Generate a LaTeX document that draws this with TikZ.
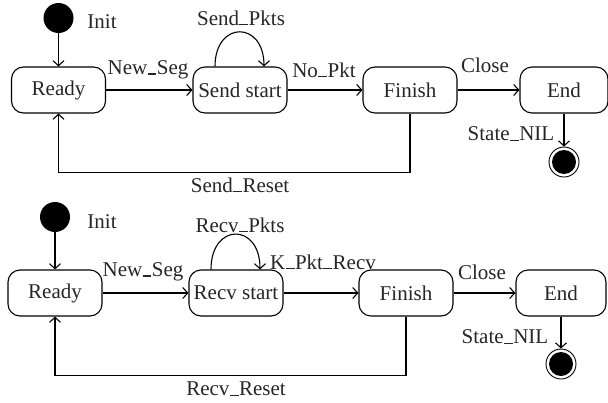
\documentclass[tikz,border=0pt]{standalone}
\usepackage{fontspec}
\setmainfont{Liberation Serif}
\usetikzlibrary{arrows.meta}
\newcommand\usc{\kern0.02em\rule[0em]{0.42em}{0.06em}\kern0.02em}
\begin{document}
\begin{tikzpicture}[x=1pt,y=-1pt,
  every node/.style={font=\fontsize{21}{24}\selectfont, text=black!85},
  state/.style={draw, line width=1.1pt, rounded corners=12pt, minimum width=94pt, minimum height=46pt, inner sep=0pt},
  initst/.style={circle, fill=black, minimum size=30pt, inner sep=0pt},
  finalst/.style={circle, draw, line width=0.9pt, minimum size=30pt, inner sep=0pt,
     path picture={\fill[black] (path picture bounding box.center) circle (12pt);}},
  arr/.style={line width=1.1pt, -{Straight Barb[length=5pt,width=11pt,line width=1.1pt]}},
  lbl/.style={inner sep=0pt}]
\useasboundingbox (0,0) rectangle (608,402);
% ---------- top diagram ----------
\node[initst] (i1) at (58.5,18) {};
\node[state] (r1) at (58.5,90) {Ready};
\node[state] (s1) at (240,90) {Send start};
\node[state] (f1) at (410,90) {Finish};
\node[state, minimum width=88pt] (e1) at (564,90) {End};
\node[finalst] (z1) at (564,162) {};
\draw[arr] (i1) -- (r1);
\draw[arr] (r1) -- (s1);
\draw[arr] (s1) -- (f1);
\draw[arr] (f1) -- (e1);
\draw[arr] (e1) -- (z1);
\draw[arr] ([xshift=-25pt]s1.north) .. controls +(0,-46) and +(0,-46) .. ([xshift=24pt]s1.north);
\draw[arr] (f1.south) -- ++(0,59) -| (r1.south);
\node[lbl] (t1) at (102,22) {Init};
\node[lbl] (t2) at (148,70) {New\usc Seg};
\node[lbl] (t3) at (241,18) {Send\usc Pkts};
\node[lbl] (t4) at (324,70) {No\usc Pkt};
\node[lbl] (t5) at (485,65) {Close};
\node[lbl] (t6) at (511,134) {State\usc NIL};
\node[lbl] (t7) at (240,185) {Send\usc Reset};
% ---------- bottom diagram ----------
\node[initst] (i2) at (55,217) {};
\node[state] (r2) at (55,293) {Ready};
\node[state] (s2) at (236,293) {Recv start};
\node[state] (f2) at (406,293) {Finish};
\node[state, minimum width=90pt] (e2) at (561,293) {End};
\node[finalst] (z2) at (561,364) {};
\draw[arr] (i2) -- (r2);
\draw[arr] (r2) -- (s2);
\draw[arr] (s2) -- (f2);
\draw[arr] (f2) -- (e2);
\draw[arr] (e2) -- (z2);
\draw[arr] ([xshift=-25pt]s2.north) .. controls +(0,-47) and +(0,-47) .. ([xshift=24pt]s2.north);
\draw[arr] (f2.south) -- ++(0,59) -| (r2.south);
\node[lbl] (u1) at (102,222) {Init};
\node[lbl] (u2) at (143,272) {New\usc Seg};
\node[lbl] (u3) at (240,225) {Recv\usc Pkts};
\node[lbl] (u4) at (323,262) {K\usc Pkt\usc Recv};
\node[lbl] (u5) at (482,272) {Close};
\node[lbl] (u6) at (505,337) {State\usc NIL};
\node[lbl] (u7) at (236,389) {Recv\usc Reset};
\end{tikzpicture}
\end{document}
